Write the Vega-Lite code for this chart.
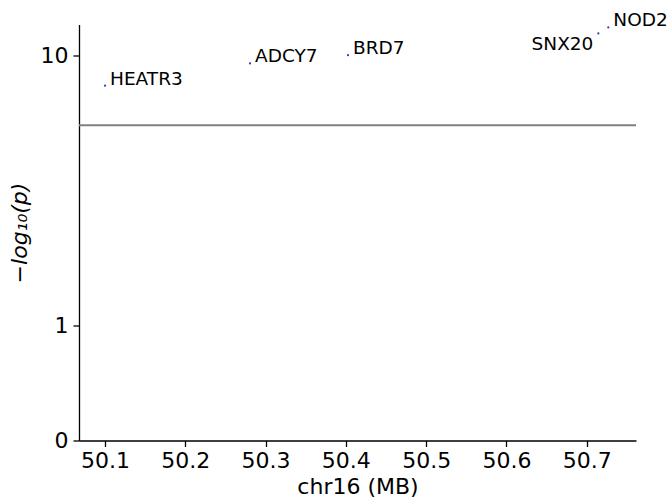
{
  "$schema": "https://vega.github.io/schema/vega-lite/v6.json",
  "width": 557,
  "height": 416,
  "autosize": {"type": "none"},
  "padding": {"left": 79, "top": 24.5, "right": 34, "bottom": 58.5},
  "config": {
    "view": {"stroke": null},
    "font": "DejaVu Sans",
    "axis": {
      "domainColor": "#000000",
      "domainWidth": 1.3,
      "tickColor": "#000000",
      "tickWidth": 1.3,
      "tickSize": 6,
      "labelColor": "#000000",
      "labelFont": "DejaVu Sans",
      "labelFontSize": 22,
      "titleFont": "DejaVu Sans",
      "titleFontSize": 22,
      "titleFontWeight": "normal",
      "titleColor": "#000000",
      "grid": false
    }
  },
  "datasets": {
    "genes": [
      {"gene": "HEATR3", "pos_mb": 50.100, "neglogp": 8.06},
      {"gene": "ADCY7", "pos_mb": 50.2806, "neglogp": 9.44},
      {"gene": "BRD7", "pos_mb": 50.4027, "neglogp": 10.0},
      {"gene": "SNX20", "pos_mb": 50.7145, "neglogp": 11.64},
      {"gene": "NOD2", "pos_mb": 50.7269, "neglogp": 12.13}
    ],
    "threshold": [
      {"neglogp": 6.05}
    ]
  },
  "layer": [
    {
      "data": {"name": "threshold"},
      "mark": {"type": "rule", "color": "#808080", "strokeWidth": 2},
      "encoding": {
        "y": {
          "field": "neglogp",
          "type": "quantitative",
          "scale": {"type": "symlog", "constant": 0.92, "domain": [0, 12.38], "nice": false, "zero": false},
          "axis": {
            "values": [0, 1, 10],
            "format": "d",
            "title": "−log₁₀(p)",
            "titleFontStyle": "italic",
            "titlePadding": 9,
            "labelPadding": 5
          }
        }
      }
    },
    {
      "data": {"name": "genes"},
      "mark": {"type": "point", "shape": "circle", "filled": true, "size": 5, "color": "#3a3acf", "opacity": 1},
      "encoding": {
        "x": {
          "field": "pos_mb",
          "type": "quantitative",
          "scale": {"domain": [50.0676, 50.7614], "nice": false, "zero": false},
          "axis": {
            "values": [50.1, 50.2, 50.3, 50.4, 50.5, 50.6, 50.7],
            "format": ".1f",
            "title": "chr16 (MB)",
            "labelPadding": 4,
            "titlePadding": 5
          }
        },
        "y": {"field": "neglogp", "type": "quantitative"}
      }
    },
    {
      "data": {"name": "genes"},
      "transform": [{"filter": "datum.gene !== 'SNX20'"}],
      "mark": {"type": "text", "align": "left", "baseline": "alphabetic", "dx": 5, "dy": -1, "fontSize": 18.5, "font": "DejaVu Sans", "color": "#000000"},
      "encoding": {
        "x": {"field": "pos_mb", "type": "quantitative"},
        "y": {"field": "neglogp", "type": "quantitative"},
        "text": {"field": "gene"}
      }
    },
    {
      "data": {"name": "genes"},
      "transform": [{"filter": "datum.gene === 'SNX20'"}],
      "mark": {"type": "text", "align": "right", "baseline": "alphabetic", "dx": -5, "dy": 17, "fontSize": 18.5, "font": "DejaVu Sans", "color": "#000000"},
      "encoding": {
        "x": {"field": "pos_mb", "type": "quantitative"},
        "y": {"field": "neglogp", "type": "quantitative"},
        "text": {"field": "gene"}
      }
    }
  ]
}
